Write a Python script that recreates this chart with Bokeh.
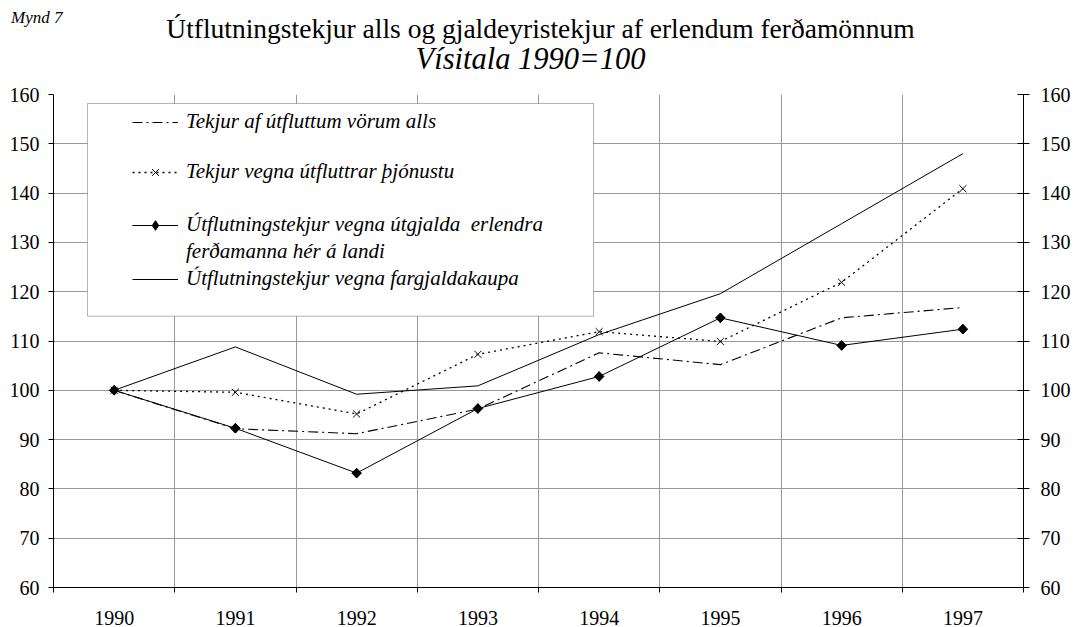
import math
from bokeh.plotting import figure
from bokeh.layouts import column
from bokeh.models import (Range1d, LinearAxis, FixedTicker, Legend, LegendItem,
                          BoxAnnotation)
from bokeh.core.properties import value
from bokeh.embed import file_html
from bokeh.resources import INLINE

# ---- data -------------------------------------------------------------
years = ["1990", "1991", "1992", "1993", "1994", "1995", "1996", "1997"]
vorur = [100.0, 92.2, 91.2, 96.2, 107.6, 105.2, 114.7, 116.8]        # Tekjur af útfluttum vörum alls
thjonusta = [100.0, 99.6, 95.2, 107.3, 111.9, 109.9, 121.9, 140.9]   # Tekjur vegna útfluttrar þjónustu
ferdamenn = [100.0, 92.3, 83.2, 96.3, 102.8, 114.7, 109.1, 112.4]    # útgjöld erlendra ferðamanna
fargjold = [100.0, 108.8, 99.2, 100.9, 111.3, 119.6, 133.8, 148.0]   # fargjaldakaup
y_ticks = [60, 70, 80, 90, 100, 110, 120, 130, 140, 150, 160]

labels = ["Tekjur af útfluttum vörum alls",
          "Tekjur vegna útfluttrar þjónustu",
          "Útflutningstekjur vegna útgjalda  erlendra",
          "ferðamanna hér á landi",
          "Útflutningstekjur vegna fargjaldakaupa"]

title_text = "Útflutningstekjur alls og gjaldeyristekjur af erlendum ferðamönnum"
subtitle_text = "Vísitala 1990=100"
fig_no = "Mynd 7"

SERIF = "Liberation Serif"
W = 1077
HEAD_H = 82

# ---- header (titles) ----------------------------------------------------
# the column aligns this frame with the chart frame (53 .. 1023 px)
hdr = figure(width=W, height=HEAD_H, x_range=Range1d(53, 1023), y_range=Range1d(HEAD_H, 0),
             x_axis_type=None, y_axis_type=None, output_backend="svg",
             toolbar_location=None, min_border=0)
hdr.outline_line_color = None
hdr.background_fill_color = "white"
hdr.border_fill_color = "white"
hdr.text(x=[540], y=[28], text=[title_text], text_align="center",
         text_baseline="middle", text_font=value(SERIF), text_font_size="27.5px",
         text_color="black")
hdr.text(x=[530], y=[58], text=[subtitle_text], text_align="center",
         text_baseline="middle", text_font=value(SERIF), text_font_style="italic",
         text_font_size="30.5px", text_color="black")
# figure number, drawn as a tick label in the header's left margin (not clipped)
fig_axis = LinearAxis(ticker=FixedTicker(ticks=[17], minor_ticks=[]),
                      major_label_overrides={17: fig_no})
fig_axis.axis_line_color = None
fig_axis.major_tick_line_color = None
fig_axis.minor_tick_line_color = None
fig_axis.major_tick_in = 0
fig_axis.major_tick_out = 0
fig_axis.major_label_standoff = -9
fig_axis.major_label_text_font = SERIF
fig_axis.major_label_text_font_style = "italic"
fig_axis.major_label_text_font_size = "17px"
fig_axis.major_label_text_color = "black"
hdr.add_layout(fig_axis, "left")

# ---- main chart ---------------------------------------------------------
# category centres on a numeric axis
xs = [i + 0.5 for i in range(len(years))]
bounds = list(range(len(years) + 1))

p = figure(width=W, height=627 - HEAD_H,
           x_range=Range1d(0, len(years)), y_range=Range1d(60, 160),
           output_backend="svg", toolbar_location=None,
           min_border_left=53, min_border_right=54,
           min_border_top=94 - HEAD_H, min_border_bottom=39)
p.outline_line_color = None
p.background_fill_color = "white"
p.border_fill_color = "white"

xa = p.xaxis[0]
xa.ticker = FixedTicker(ticks=xs, minor_ticks=bounds)
xa.major_label_overrides = {x: y for x, y in zip(xs, years)}
xa.major_tick_line_color = None
xa.major_tick_out = 0
xa.major_tick_in = 0
xa.minor_tick_line_color = "black"
xa.minor_tick_in = 0
xa.minor_tick_out = 5
xa.axis_line_color = "black"
xa.major_label_standoff = 18
xa.major_label_text_font = SERIF
xa.major_label_text_font_size = "20px"
xa.major_label_text_color = "black"

ya = p.yaxis[0]
ya.ticker = FixedTicker(ticks=y_ticks, minor_ticks=[])
ya.major_tick_in = 0
ya.major_tick_out = 5
ya.major_tick_line_color = "black"
ya.axis_line_color = "black"
ya.major_label_standoff = 9
ya.major_label_text_font = SERIF
ya.major_label_text_font_size = "20px"
ya.major_label_text_color = "black"

ra = LinearAxis(ticker=FixedTicker(ticks=y_ticks, minor_ticks=[]))
ra.major_tick_in = 6
ra.major_tick_out = 6
ra.major_tick_line_color = "black"
ra.axis_line_color = "black"
ra.major_label_standoff = 11
ra.major_label_text_font = SERIF
ra.major_label_text_font_size = "20px"
ra.major_label_text_color = "black"
p.add_layout(ra, "right")

p.xgrid.ticker = FixedTicker(ticks=bounds[1:-1])
p.ygrid.ticker = FixedTicker(ticks=y_ticks[1:])
p.xgrid.grid_line_color = "#999999"
p.ygrid.grid_line_color = "#999999"

# ---- series -------------------------------------------------------------
r1 = p.line(xs, vorur, line_color="black", line_width=1.1, line_dash="10 4 2 4")
r2 = p.line(xs, thjonusta, line_color="black", line_width=1.3, line_dash="2 4")
r2m = p.scatter(xs, thjonusta, marker="x", size=10, line_color="black", line_width=1)
r3 = p.line(xs, ferdamenn, line_color="black", line_width=1)
# diamond key (used by the legend; lies under the rotated squares)
r3k = p.scatter(xs, ferdamenn, marker="diamond", size=9.5,
                fill_color="black", line_color="black")
r3m = p.scatter(xs, ferdamenn, marker="square", size=6.8, angle=math.pi / 4,
                fill_color="black", line_color="black")
r4 = p.line(xs, fargjold, line_color="black", line_width=1)
dummy = p.line(x=[], y=[], line_alpha=0)

# ---- legend -------------------------------------------------------------
box = BoxAnnotation(left=0.28, right=4.454, top=158.18, bottom=115.03,
                    fill_color="white", fill_alpha=1.0,
                    line_color="black", line_width=1)
p.add_layout(box)

common = dict(padding=0, margin=0, border_line_alpha=0, background_fill_alpha=0,
              glyph_width=46, glyph_height=24, label_height=24, label_standoff=8,
              label_text_font=SERIF, label_text_font_style="italic",
              label_text_font_size="21px", label_text_color="black")

legA = Legend(items=[LegendItem(label=labels[0], renderers=[r1]),
                     LegendItem(label=labels[1], renderers=[r2, r2m])],
              location=(79, 403), spacing=25, **common)
legB = Legend(items=[LegendItem(label=labels[2], renderers=[r3, r3k]),
                     LegendItem(label=labels[3], renderers=[dummy]),
                     LegendItem(label=labels[4], renderers=[r4])],
              location=(79, 296), spacing=2, **common)
p.add_layout(legA)
p.add_layout(legB)

layout = column(hdr, p, spacing=0)
open("out.html", "w").write(file_html(layout, INLINE))
